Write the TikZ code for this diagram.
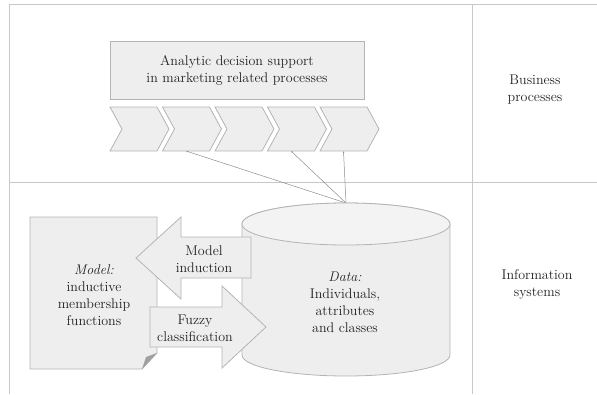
\documentclass[tikz,border=0pt]{standalone}
\usetikzlibrary{arrows.meta}
\definecolor{frameg}{HTML}{C8C8C8}
\definecolor{fillg}{HTML}{EEEEEE}
\definecolor{topg}{HTML}{F3F3F3}
\definecolor{edgeg}{HTML}{B4B4B4}
\definecolor{txt}{HTML}{222222}
\definecolor{foldg}{HTML}{A0A0A0}
\definecolor{linkg}{HTML}{8C8C8C}
\begin{document}
\begin{tikzpicture}[x=1pt,y=-1pt,
  frame/.style={draw=frameg,line width=1pt},
  shapebox/.style={draw=edgeg,fill=fillg,line width=0.8pt},
  lbl/.style={text=txt,align=center,font=\fontsize{14}{17}\selectfont,inner sep=0pt},
  link/.style={draw=linkg,line width=0.5pt,-{Latex[length=2pt,width=1.6pt]}}]
\useasboundingbox (0,0) rectangle (597,394);
% frame
\draw[frame] (9,394) -- (9,4) -- (597,4);
\draw[frame] (472,4) -- (472,394);
\draw[frame] (9,182) -- (597,182);
% top box
\node[shapebox,lbl,minimum width=254pt,minimum height=58pt] (support) at (237,70)
  {Analytic decision support\\in marketing related processes};
% chevrons
\foreach \i in {0,...,4}{
  \pgfmathsetmacro\xo{110+52.5*\i}
  \draw[shapebox] (\xo,107) -- ++(47,0) -- ++(12,22) -- ++(-12,22) -- ++(-47,0) -- ++(12,-22) -- cycle;
  \coordinate (c\i) at (\xo+23.5,151);
}
\coordinate (cyltop) at (346,203);
\draw[link] (cyltop) -- (c1);
\draw[link] (cyltop) -- (c3);
\draw[link] (cyltop) -- (c4);
% cylinder
\path[shapebox] (242,224) -- (242,355) arc[start angle=180,end angle=0,x radius=104,y radius=21]
  -- (450,224) arc[start angle=0,end angle=-180,x radius=104,y radius=21] -- cycle;
\draw[shapebox,fill=topg] (346,224) ellipse[x radius=104,y radius=21];
\node[lbl] (data) at (345,302) {\textit{Data:}\\Individuals,\\attributes\\and classes};
% document
\draw[shapebox] (30,217) -- (157,217) -- (157,353) -- (142,369) -- (30,369) -- cycle;
\fill[foldg] (157,353) -- (142,369) -- (146,357) -- cycle;
\node[lbl] (model) at (94,295) {\textit{Model:}\\inductive\\membership\\functions};
% block arrows
\draw[shapebox] (136,258) -- (181,217) -- (181,237) -- (251,237) -- (251,278) -- (181,278) -- (181,299) -- cycle;
\draw[shapebox] (266,327) -- (222,286) -- (222,307) -- (150,307) -- (150,347) -- (222,347) -- (222,368) -- cycle;
\node[lbl] (induction) at (204,259) {Model\\induction};
\node[lbl] (fuzzy) at (195,328) {Fuzzy\\classification};
% side labels
\node[lbl] (business) at (535,90) {Business\\processes};
\node[lbl] (infosys) at (537,284) {Information\\systems};
\end{tikzpicture}
\end{document}
